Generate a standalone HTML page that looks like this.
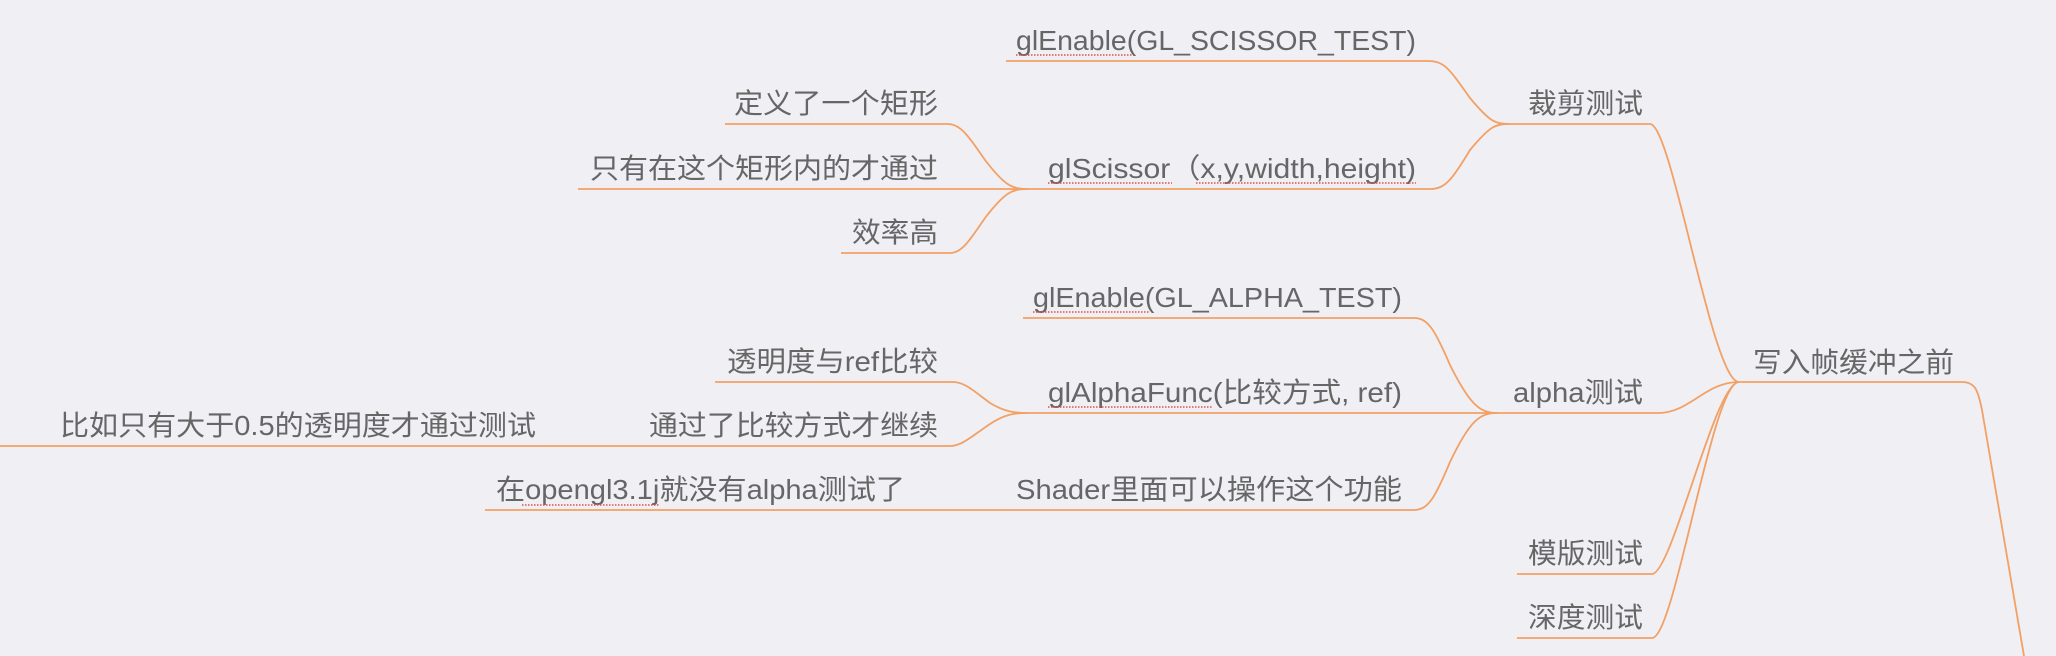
<!DOCTYPE html>
<html><head><meta charset="utf-8"><style>
html,body{margin:0;padding:0;background:#efeff4;overflow:hidden;width:2056px;height:656px;}
svg{display:block;overflow:hidden}
text{font-family:"Liberation Sans","Noto Sans CJK SC",sans-serif;font-size:28px;fill:#666;}
</style></head><body>
<svg width="2056" height="656" viewBox="0 0 2056 656" xmlns="http://www.w3.org/2000/svg">
<g fill="none" stroke="#f3a065" stroke-width="1.8">
<path d="M1739,382 H1962 C1975,382 1978,390 1982,410 L2024,656"/>
<path d="M1510,124 H1650 C1672,124 1712,382 1739,382"/>
<path d="M1497,413 H1658 C1690,413 1705,382 1739,382"/>
<path d="M1517,574 H1652 C1672,574 1715,382 1739,382"/>
<path d="M1517,638 H1652 C1675,638 1712,382 1739,382"/>
<path d="M1006,61 H1428 C1445,61 1450,70 1470,98 C1490,122 1495,124 1510,124"/>
<path d="M1028,189 H1430 C1445,189 1452,180 1470,150 C1490,126 1495,124 1510,124"/>
<path d="M725,124 H948 C960,124 968,135 985,160 C1005,186 1012,189 1028,189"/>
<path d="M578,189 H1028"/>
<path d="M841,253 H950 C962,253 970,240 985,218 C1005,192 1012,189 1028,189"/>
<path d="M1023,318 H1414 C1428,318 1435,330 1450,365 C1470,405 1480,413 1497,413"/>
<path d="M1028,413 H1497"/>
<path d="M485,510 H1414 C1428,510 1435,498 1450,462 C1470,420 1480,413 1497,413"/>
<path d="M715,382 H953 C965,382 975,392 990,403 C1005,412 1015,413 1028,413"/>
<path d="M0,446 H950 C962,446 972,436 990,424 C1005,414 1015,413 1028,413"/>
</g>
<g>
<text x="1016" y="50" textLength="400" lengthAdjust="spacingAndGlyphs">glEnable(GL_SCISSOR_TEST)</text>
<text x="1528" y="113" textLength="115" lengthAdjust="spacingAndGlyphs">裁剪测试</text>
<text x="1048" y="178" textLength="368" lengthAdjust="spacingAndGlyphs">glScissor（x,y,width,height)</text>
<text x="734" y="113" textLength="204" lengthAdjust="spacingAndGlyphs">定义了一个矩形</text>
<text x="590" y="178" textLength="348" lengthAdjust="spacingAndGlyphs">只有在这个矩形内的才通过</text>
<text x="852" y="242" textLength="86" lengthAdjust="spacingAndGlyphs">效率高</text>
<text x="1033" y="307" textLength="369" lengthAdjust="spacingAndGlyphs">glEnable(GL_ALPHA_TEST)</text>
<text x="1048" y="402" textLength="354" lengthAdjust="spacingAndGlyphs">glAlphaFunc(比较方式, ref)</text>
<text x="1513" y="402" textLength="130" lengthAdjust="spacingAndGlyphs">alpha测试</text>
<text x="727" y="371" textLength="211" lengthAdjust="spacingAndGlyphs">透明度与ref比较</text>
<text x="649" y="435" textLength="289" lengthAdjust="spacingAndGlyphs">通过了比较方式才继续</text>
<text x="60" y="435" textLength="476" lengthAdjust="spacingAndGlyphs">比如只有大于0.5的透明度才通过测试</text>
<text x="1016" y="499" textLength="386" lengthAdjust="spacingAndGlyphs">Shader里面可以操作这个功能</text>
<text x="496" y="499" textLength="409" lengthAdjust="spacingAndGlyphs">在opengl3.1j就没有alpha测试了</text>
<text x="1753" y="372" textLength="201" lengthAdjust="spacingAndGlyphs">写入帧缓冲之前</text>
<text x="1528" y="563" textLength="115" lengthAdjust="spacingAndGlyphs">模版测试</text>
<text x="1528" y="627" textLength="115" lengthAdjust="spacingAndGlyphs">深度测试</text>
</g>
<g stroke="#e05050" stroke-width="1.5" stroke-dasharray="1.5 1.5" fill="none">
<path d="M1016,55 H1132"/>
<path d="M1048,183 H1172 M1196,183 H1416"/>
<path d="M1033,312 H1149"/>
<path d="M1048,407 H1212"/>
<path d="M522,505 H660"/>
</g>
</svg>
</body></html>
